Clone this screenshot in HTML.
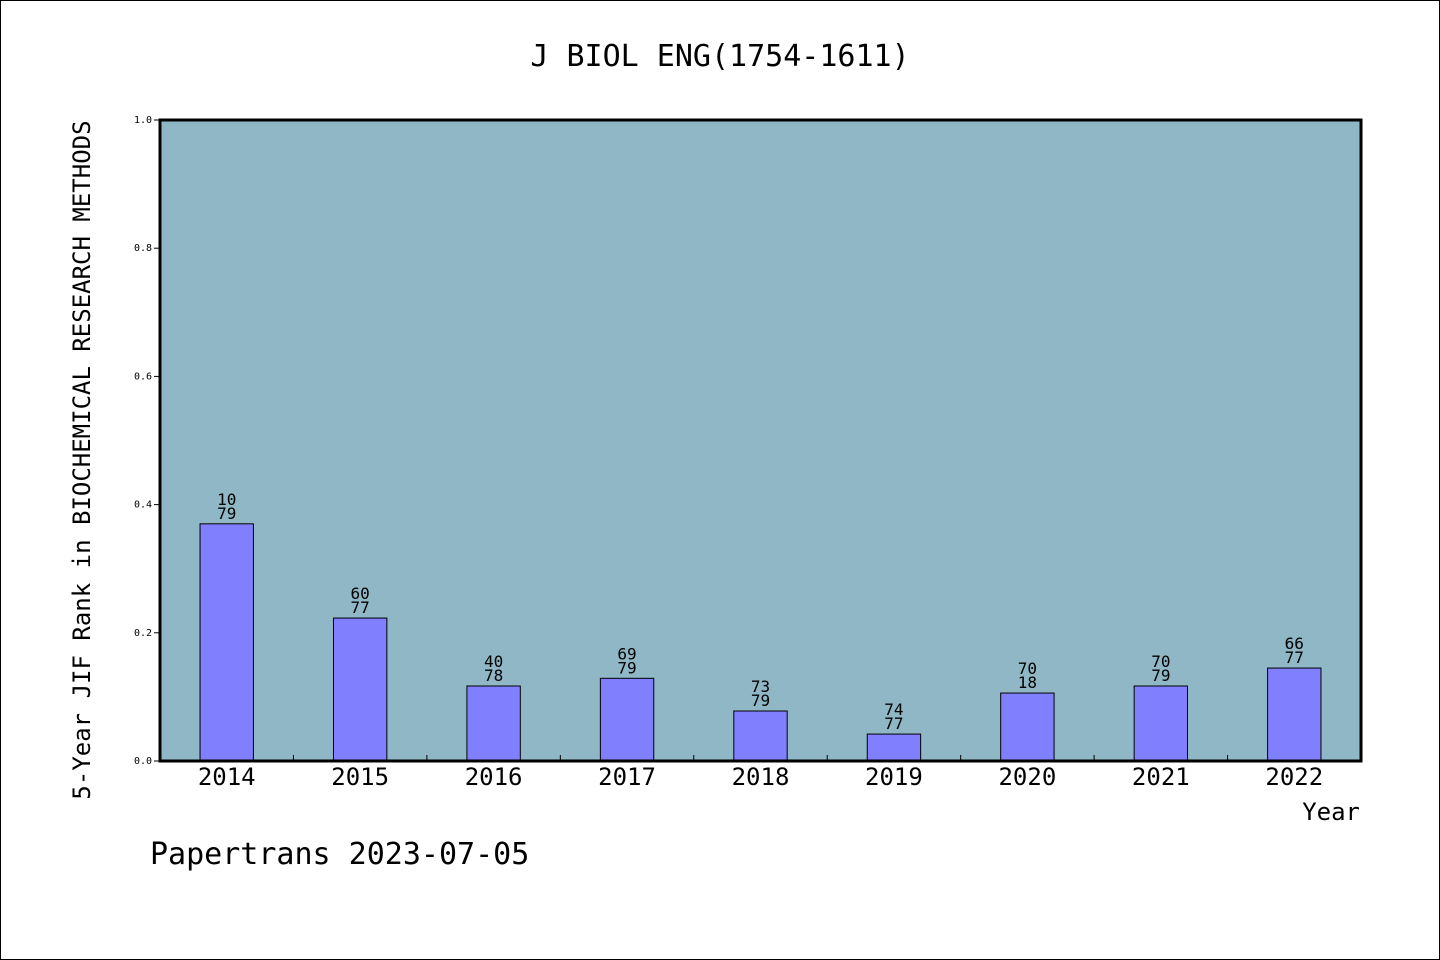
<!DOCTYPE html>
<html><head><meta charset="utf-8"><style>
body{margin:0;background:#fff}
svg{display:block}
text{font-family:"WenQuanYi Zen Hei","DejaVu Sans Mono",monospace;fill:#000}
</style></head><body>
<svg width="1440" height="960" id="chart">
<rect x="0.5" y="0.5" width="1439" height="959" fill="#fff" stroke="#000"/>
<text x="720" y="66" font-size="30" text-anchor="middle">J BIOL ENG(1754-1611)</text>
<rect x="160" y="120" width="1201" height="641" fill="#8fb7c6"/>
<g id="bars"></g>
<rect x="160" y="120" width="1201" height="641" fill="none" stroke="#000" stroke-width="3"/>
<text transform="translate(90,460) rotate(-90)" font-size="24" text-anchor="middle">5-Year JIF Rank in BIOCHEMICAL RESEARCH METHODS</text>
<text x="1360" y="820" font-size="24" text-anchor="end">Year</text>
<text x="150" y="864" font-size="30">Papertrans 2023-07-05</text>
</svg>
<script>
const categories=["2014","2015","2016","2017","2018","2019","2020","2021","2022"];
const values=[0.370,0.223,0.117,0.129,0.078,0.042,0.106,0.117,0.145];
const topLabels=["10","60","40","69","73","74","70","70","66"];
const bottomLabels=["79","77","78","79","79","77","18","79","77"];
const yTicks=[0,0.2,0.4,0.6,0.8,1.0];
const X0=160,X1=1361,Y0=761,Y1=120;
const band=(X1-X0)/categories.length;
const y=v=>Y0-(Y0-Y1)*v;
const x=i=>X0+band*i;
const svg=document.getElementById('chart');
const g=document.getElementById('bars');
const NS='http://www.w3.org/2000/svg';
function mk(t,a,p){const e=document.createElementNS(NS,t);for(const k in a)e.setAttribute(k,a[k]);(p||svg).appendChild(e);return e;}
categories.forEach((c,i)=>{
 const w=band*0.4,cx=x(i)+band/2;
 const r=mk('rect',{x:cx-w/2,y:y(values[i]),width:w,height:Y0-y(values[i]),fill:'#8080ff',stroke:'#000','stroke-width':1},g);
 
 
 const t1=mk('text',{x:cx,y:y(values[i])-19,'font-size':16,'text-anchor':'middle'},g);t1.textContent=topLabels[i];
 
 
 const t2=mk('text',{x:cx,y:y(values[i])-5,'font-size':16,'text-anchor':'middle'},g);t2.textContent=bottomLabels[i];
 
 
 const xl=mk('text',{x:cx,y:785,'font-size':24,'text-anchor':'middle'});xl.textContent=c;
 
 
 if(i>0){const tk=mk('line',{x1:x(i),x2:x(i),y1:Y0,y2:Y0-6,stroke:'#000'});
 
 }
});
yTicks.forEach(v=>{
 const tk=mk('line',{x1:X0,x2:X0-6,y1:y(v),y2:y(v),stroke:'#000'});
 
 
 const t=mk('text',{x:152,y:y(v)+3,'font-size':10,'text-anchor':'end'});t.textContent=v.toFixed(1);
 
 
});
</script>
</body></html>
